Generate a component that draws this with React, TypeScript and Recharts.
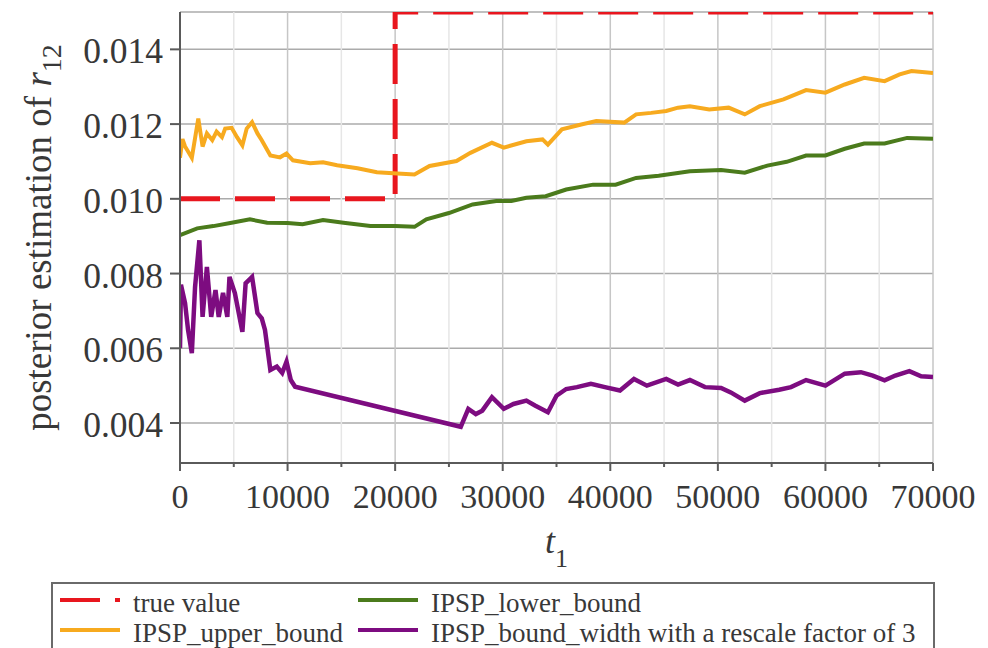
import React from "react";
import { LineChart, Line, XAxis, YAxis, CartesianGrid, ReferenceLine } from "recharts";

// ---- data ----
const trueT = [0, 20000, 20000, 70000];
const trueV = [0.01, 0.01, 0.015, 0.015];

const upperT = [0, 230, 470, 1100, 1700, 2100, 2500, 3000, 3400, 3900, 4200, 4800, 5300, 5800, 6200, 6700, 7200, 7600, 8400, 9300, 9900, 10500, 12100, 13300, 14600, 16500, 18300, 20200, 21800, 23200, 25700, 27000, 29000, 30100, 32200, 33700, 34200, 35500, 37300, 38700, 41300, 42400, 43800, 45200, 46300, 47400, 49200, 51000, 52500, 53900, 56100, 58200, 60000, 61800, 63600, 65500, 66900, 68000, 70000];
const upperV = [0.0111, 0.0116, 0.0114, 0.0111, 0.01215, 0.0114, 0.01175, 0.01157, 0.0118, 0.01165, 0.01188, 0.0119, 0.01165, 0.01143, 0.01188, 0.01205, 0.01175, 0.01157, 0.01116, 0.01111, 0.01121, 0.01103, 0.01095, 0.01098, 0.0109, 0.01082, 0.01071, 0.01068, 0.01065, 0.01088, 0.01101, 0.01123, 0.0115, 0.01137, 0.01154, 0.01159, 0.01145, 0.01186, 0.01199, 0.01208, 0.01204, 0.01226, 0.0123, 0.01235, 0.01244, 0.01248, 0.01239, 0.01244, 0.01226, 0.01248, 0.01266, 0.01291, 0.01284, 0.01306, 0.01324, 0.01315, 0.01333, 0.01342, 0.01337];

const lowerT = [0, 1600, 3100, 4800, 6500, 8100, 10000, 11400, 13300, 15200, 17700, 20000, 21800, 22900, 25000, 27200, 29400, 30800, 32200, 34000, 35900, 38400, 40500, 42400, 44500, 47400, 50300, 52500, 54600, 56400, 58200, 60000, 61800, 63600, 65500, 67600, 70000];
const lowerV = [0.00903, 0.00921, 0.00927, 0.00936, 0.00945, 0.00936, 0.00935, 0.00932, 0.00943, 0.00936, 0.00927, 0.00927, 0.00925, 0.00945, 0.00962, 0.00985, 0.00994, 0.00994, 0.01003, 0.01007, 0.01025, 0.01038, 0.01038, 0.01056, 0.01062, 0.01074, 0.01077, 0.0107, 0.01089, 0.01099, 0.01116, 0.01116, 0.01134, 0.01148, 0.01148, 0.01163, 0.01161];

const widthT = [0, 90, 470, 750, 1100, 1400, 1800, 2100, 2500, 2900, 3300, 3600, 4000, 4400, 4600, 5100, 5800, 6100, 6700, 7200, 7600, 7900, 8400, 9000, 9500, 9900, 10300, 10700, 26100, 26800, 27500, 28100, 29000, 30100, 31000, 32200, 33000, 34200, 35000, 35900, 36900, 38200, 39500, 40900, 42200, 43400, 45200, 46300, 47400, 48800, 50300, 51200, 52500, 53900, 55700, 56800, 58200, 60000, 61800, 63300, 64400, 65500, 66500, 67800, 68900, 70000];
const widthV = [0.006, 0.0077, 0.00721, 0.00649, 0.00587, 0.00764, 0.00889, 0.00684, 0.00818, 0.00684, 0.00756, 0.00684, 0.00748, 0.00684, 0.00791, 0.00748, 0.00644, 0.00774, 0.00791, 0.00694, 0.0068, 0.00649, 0.00542, 0.00551, 0.00534, 0.00564, 0.00515, 0.00497, 0.0039, 0.00438, 0.00424, 0.00433, 0.00469, 0.00438, 0.00451, 0.0046, 0.00447, 0.00429, 0.00473, 0.00491, 0.00496, 0.00505, 0.00496, 0.00487, 0.00518, 0.005, 0.00518, 0.00503, 0.00515, 0.00496, 0.00494, 0.00482, 0.0046, 0.0048, 0.00489, 0.00496, 0.00515, 0.005, 0.00532, 0.00536, 0.00527, 0.00514, 0.00527, 0.00539, 0.00525, 0.00523];

const xTicks = [0, 5000, 10000, 15000, 20000, 25000, 30000, 35000, 40000, 45000, 50000, 55000, 60000, 65000, 70000];
const yTicks = [0.004, 0.006, 0.008, 0.01, 0.012, 0.014];

const seriesNames = ["true value", "IPSP_lower_bound", "IPSP_upper_bound", "IPSP_bound_width with a rescale factor of 3"];
const seriesColors = ["#e8161e", "#4b7b1c", "#f7aa1f", "#7d0c80"];

const toData = (ts: number[], vs: number[]) => ts.map((t, i) => ({ t, v: vs[i] }));
const trueData = toData(trueT, trueV);
const upperData = toData(upperT, upperV);
const lowerData = toData(lowerT, lowerV);
const widthData = toData(widthT, widthV);

const FONT = "Liberation Serif, DejaVu Serif, serif";
const fontStyle = { fontFamily: FONT };
const TXT = "#383838";
const AXIS = "#5a5a5a";

const XTick = (props: any) => {
  const { x, y, payload } = props;
  const major = payload.value % 10000 === 0;
  return (
    <g>
      <line x1={x} x2={x} y1={y} y2={y + (major ? 8 : 4)} stroke={AXIS} strokeWidth={2} />
      {major && (
        <text x={x} y={y + 45} textAnchor="middle" fontSize={34} style={fontStyle} fill={TXT}>
          {payload.value}
        </text>
      )}
    </g>
  );
};

const YTick = (props: any) => {
  const { x, y, payload } = props;
  return (
    <g>
      <line x1={x - 10} x2={x} y1={y} y2={y} stroke={AXIS} strokeWidth={2} />
      <text x={x - 17} y={y + 14} textAnchor="end" fontSize={35.5} style={fontStyle} fill={TXT}>
        {Number(payload.value).toFixed(3)}
      </text>
    </g>
  );
};

const YLabel = (props: any) => {
  const vb = props.viewBox || {};
  const cy = (vb.y || 0) + (vb.height || 0) / 2;
  const cx = 51;
  return (
    <text transform={`rotate(-90, ${cx}, ${cy})`} x={cx} y={cy} textAnchor="middle" fontSize={37} style={fontStyle} fill={TXT}>
      posterior estimation of <tspan fontStyle="italic">r</tspan>
      <tspan dy={10} fontSize={28}>12</tspan>
    </text>
  );
};

const XLabel = (props: any) => {
  const vb = props.viewBox || {};
  const cx = (vb.x || 0) + (vb.width || 0) / 2;
  const y = (vb.y || 0) + 90;
  return (
    <text x={cx} y={y} textAnchor="middle" fontSize={36} style={fontStyle} fill={TXT}>
      <tspan fontStyle="italic">t</tspan>
      <tspan dy={14} fontSize={26}>1</tspan>
    </text>
  );
};

const LegendBox = () => {
  const rows = [
    { i: 0, x: 60, y: 600, dash: "40 15" },
    { i: 1, x: 358, y: 600, dash: undefined },
    { i: 2, x: 60, y: 630, dash: undefined },
    { i: 3, x: 358, y: 630, dash: undefined },
  ];
  return (
    <svg width={988} height={648} style={{ position: "absolute", left: 0, top: 0, pointerEvents: "none" }}>
      <rect x={52} y={583} width={882} height={80} fill="#ffffff" stroke="#6a6a6a" strokeWidth={2} />
      {rows.map((r) => (
        <g key={r.i}>
          <line x1={r.x} x2={r.x + 60} y1={r.y} y2={r.y} stroke={seriesColors[r.i]} strokeWidth={4} strokeDasharray={r.dash} />
          <text x={r.x + 73} y={r.y + 12} fontSize={27} style={fontStyle} fill={TXT}>
            {seriesNames[r.i]}
          </text>
        </g>
      ))}
    </svg>
  );
};

export default function App() {
  return (
    <div style={{ position: "absolute", left: 0, top: 0, width: 988, height: 648, overflow: "hidden", background: "#fff", fontFamily: FONT }}>
      <LineChart width={988} height={648} margin={{ top: 12, right: 55, bottom: 125, left: 0 }}>
        <CartesianGrid vertical={false} stroke="#ababab" strokeWidth={1.5} />
        {xTicks.map((v) => (
          <ReferenceLine key={v} x={v} stroke={v % 10000 === 0 ? "#c6c6c6" : "#e6e6e6"} strokeWidth={1.5} />
        ))}
        <XAxis
          dataKey="t"
          type="number"
          domain={[0, 70000]}
          ticks={xTicks}
          interval={0}
          tickSize={0}
          tickMargin={0}
          tickLine={false}
          tick={<XTick />}
          height={60}
          stroke={AXIS}
          strokeWidth={2}
          allowDataOverflow
          label={<XLabel />}
        />
        <YAxis
          dataKey="v"
          type="number"
          domain={[0.00293, 0.015]}
          ticks={yTicks}
          interval={0}
          tickSize={0}
          tickMargin={0}
          tickLine={false}
          tick={<YTick />}
          width={180}
          stroke={AXIS}
          strokeWidth={2}
          allowDataOverflow
          label={<YLabel />}
        />
        <Line data={trueData} dataKey="v" stroke={seriesColors[0]} strokeWidth={5} strokeDasharray="40 15" dot={false} isAnimationActive={false} />
        <Line data={upperData} dataKey="v" stroke={seriesColors[2]} strokeWidth={4} dot={false} isAnimationActive={false} />
        <Line data={lowerData} dataKey="v" stroke={seriesColors[1]} strokeWidth={4} dot={false} isAnimationActive={false} />
        <Line data={widthData} dataKey="v" stroke={seriesColors[3]} strokeWidth={4.5} dot={false} isAnimationActive={false} />
      </LineChart>
      <LegendBox />
    </div>
  );
}
